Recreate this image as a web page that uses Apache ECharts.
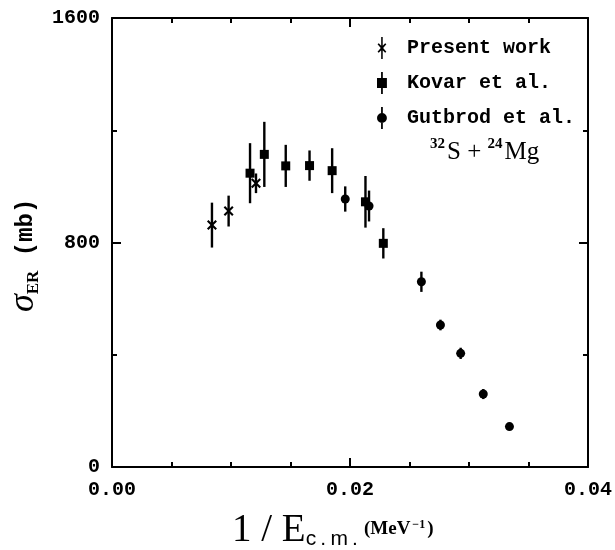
<!DOCTYPE html>
<html>
<head>
<meta charset="utf-8">
<script src="https://cdn.jsdelivr.net/npm/echarts@6/dist/echarts.min.js"></script>
<style>
html,body{margin:0;padding:0;background:#fff;}
#chart{width:615px;height:550px;}
</style>
</head>
<body>
<div id="chart"></div>
<script>
// ---- data ----
const presentX   = [0.0084, 0.0098, 0.0121];
const presentY   = [862, 912, 1011];
const presentErr = [80, 55, 35];

const kovarX   = [0.0116, 0.0128, 0.0146, 0.0166, 0.0185, 0.0213, 0.0228];
const kovarY   = [1047, 1114, 1073, 1074, 1056, 945, 797];
const kovarErr = [107, 116, 75, 54, 80, 92, 54];

const gutbrodX   = [0.0196, 0.0216, 0.0260, 0.0276, 0.0293, 0.0312, 0.0334];
const gutbrodY   = [955, 930, 660, 506, 405, 260, 144];
const gutbrodErr = [45, 55, 36, 19, 20, 18, 0];

const seriesNames = ['Present work', 'Kovar et al.', 'Gutbrod et al.'];
const xTickValues = [0.00, 0.02, 0.04];
const yTickValues = [0, 800, 1600];

// ---- build ----
function pts(xs, ys) { return xs.map((x, i) => [x, ys[i]]); }
function errs(xs, ys, es) { return xs.map((x, i) => [x, ys[i], es[i]]); }

const monoFont = 'Liberation Mono';
const serifFont = 'Liberation Serif';

const xSym = 'path://M0,1.5 L1.5,0 L5,3.5 L8.5,0 L10,1.5 L6.5,5 L10,8.5 L8.5,10 L5,6.5 L1.5,10 L0,8.5 L3.5,5 Z';
const iconPresent = 'path://M4.3,0 L5.7,0 L5.7,20 L4.3,20 Z M1,6.6 L2.1,5.6 L5,8.6 L7.9,5.6 L9,6.6 L6.1,10 L9,13.4 L7.9,14.4 L5,11.4 L2.1,14.4 L1,13.4 L3.9,10 Z';
const iconKovar = 'path://M4.2,0 L5.8,0 L5.8,5.5 L9.5,5.5 L9.5,14.5 L5.8,14.5 L5.8,20 L4.2,20 L4.2,14.5 L0.5,14.5 L0.5,5.5 L4.2,5.5 Z';
const iconGutbrod = 'path://M4.2,0 L5.8,0 L5.8,20 L4.2,20 Z M0.5,10 A4.5,4.5 0 1,1 9.5,10 A4.5,4.5 0 1,1 0.5,10 Z';

function errorBarSeries(name, data) {
  return {
    name: name + ' err',
    type: 'custom',
    xAxisIndex: 0, yAxisIndex: 0,
    data: data,
    encode: { x: 0, y: 1 },
    z: 2,
    silent: true,
    renderItem: function (params, api) {
      const x = api.value(0), y = api.value(1), e = api.value(2);
      const p1 = api.coord([x, y - e]);
      const p2 = api.coord([x, y + e]);
      return {
        type: 'line',
        shape: { x1: p1[0], y1: p1[1], x2: p2[0], y2: p2[1] },
        style: { stroke: '#000', lineWidth: 2.4 }
      };
    }
  };
}

const axisCommon = {
  axisLine: { show: true, onZero: false, lineStyle: { color: '#000', width: 2 } },
  axisTick: { show: true, inside: true, length: 9, lineStyle: { color: '#000', width: 2 } },
  minorTick: { show: true, length: 5, lineStyle: { color: '#000', width: 2 } },
  splitLine: { show: false },
  minorSplitLine: { show: false }
};

const chart = echarts.init(document.getElementById('chart'), null, { renderer: 'canvas' });

const option = {
  animation: false,
  backgroundColor: '#fff',
  grid: { left: 112, right: 21, top: 18, bottom: 83, containLabel: false },
  xAxis: [
    Object.assign({}, axisCommon, {
      type: 'value', min: xTickValues[0], max: xTickValues[2], interval: 0.02,
      position: 'bottom',
      minorTick: Object.assign({}, axisCommon.minorTick, { splitNumber: 4 }),
      axisLabel: {
        show: true, margin: 13, color: '#000', fontFamily: monoFont, fontSize: 20, fontWeight: 'bold',
        formatter: v => v.toFixed(2)
      }
    }),
    Object.assign({}, axisCommon, {
      type: 'value', min: xTickValues[0], max: xTickValues[2], interval: 0.02,
      position: 'top',
      minorTick: Object.assign({}, axisCommon.minorTick, { splitNumber: 4 }),
      axisLabel: { show: false }
    })
  ],
  yAxis: [
    Object.assign({}, axisCommon, {
      type: 'value', min: yTickValues[0], max: yTickValues[2], interval: 800,
      position: 'left',
      minorTick: Object.assign({}, axisCommon.minorTick, { splitNumber: 2 }),
      axisLabel: {
        show: true, margin: 12, color: '#000', fontFamily: monoFont, fontSize: 20, fontWeight: 'bold',
        formatter: v => String(v)
      }
    }),
    Object.assign({}, axisCommon, {
      type: 'value', min: yTickValues[0], max: yTickValues[2], interval: 800,
      position: 'right',
      minorTick: Object.assign({}, axisCommon.minorTick, { splitNumber: 2 }),
      axisLabel: { show: false }
    })
  ],
  legend: {
    show: true,
    orient: 'vertical',
    left: 372,
    top: 32,
    itemWidth: 40,
    itemHeight: 22,
    itemGap: 13,
    symbolKeepAspect: true,
    textStyle: { color: '#000', fontFamily: monoFont, fontSize: 20, fontWeight: 'bold' },
    data: [
      { name: seriesNames[0], icon: iconPresent },
      { name: seriesNames[1], icon: iconKovar },
      { name: seriesNames[2], icon: iconGutbrod }
    ]
  },
  graphic: [
    {
      type: 'text',
      left: 430, top: 137,
      style: {
        text: '{sup|32}{m|S + }{sup|24}{m|Mg}',
        fill: '#000',
        rich: {
          sup: { fontSize: 15, fontWeight: 'bold', fontFamily: serifFont, verticalAlign: 'top', lineHeight: 28, fill: '#000', padding: [0, 2, 0, 0] },
          m: { fontSize: 25, fontFamily: serifFont, lineHeight: 28, verticalAlign: 'bottom', fill: '#000' }
        }
      }
    },
    {
      type: 'text',
      left: 232, top: 511,
      style: {
        text: '{a|1 / E}{b|c\u2009.\u2009m\u2009.}{c|(MeV}{d|\u22121}{c|)}',
        fill: '#000',
        rich: {
          a: { fontSize: 39, fontFamily: serifFont, lineHeight: 38, verticalAlign: 'bottom', fill: '#000' },
          b: { fontSize: 21, fontFamily: 'Liberation Sans', lineHeight: 38, verticalAlign: 'bottom', fill: '#000', padding: [0, 6, 0, 0] },
          c: { fontSize: 19, fontWeight: 'bold', fontFamily: serifFont, lineHeight: 38, verticalAlign: 'top', fill: '#000', padding: [8, 0, 0, 0] },
          d: { fontSize: 12, fontWeight: 'bold', fontFamily: serifFont, lineHeight: 38, verticalAlign: 'top', fill: '#000', padding: [7, 2, 0, 2] }
        }
      }
    },
    {
      type: 'text',
      x: 8, y: 312,
      rotation: Math.PI / 2,
      style: {
        text: '{s|σ}{sub|ER}{u| (mb)}',
        fill: '#000',
        rich: {
          s: { fontSize: 36, fontStyle: 'italic', fontFamily: serifFont, lineHeight: 34, verticalAlign: 'bottom', fill: '#000' },
          sub: { fontSize: 17, fontWeight: 'bold', fontFamily: serifFont, lineHeight: 34, verticalAlign: 'bottom', fill: '#000' },
          u: { fontSize: 24, fontWeight: 'bold', fontFamily: monoFont, lineHeight: 34, verticalAlign: 'bottom', fill: '#000', padding: [0, 0, 4, 0] }
        }
      }
    }
  ],
  series: [
    errorBarSeries(seriesNames[0], errs(presentX, presentY, presentErr)),
    errorBarSeries(seriesNames[1], errs(kovarX, kovarY, kovarErr)),
    errorBarSeries(seriesNames[2], errs(gutbrodX, gutbrodY, gutbrodErr)),
    {
      name: seriesNames[0], type: 'scatter', data: pts(presentX, presentY),
      symbol: xSym, symbolSize: 10, itemStyle: { color: '#000', opacity: 1 }, z: 3
    },
    {
      name: seriesNames[1], type: 'scatter', data: pts(kovarX, kovarY),
      symbol: 'rect', symbolSize: 9, itemStyle: { color: '#000', opacity: 1 }, z: 3
    },
    {
      name: seriesNames[2], type: 'scatter', data: pts(gutbrodX, gutbrodY),
      symbol: 'circle', symbolSize: 9, itemStyle: { color: '#000', opacity: 1 }, z: 3
    }
  ]
};

chart.setOption(option);
</script>
</body>
</html>
